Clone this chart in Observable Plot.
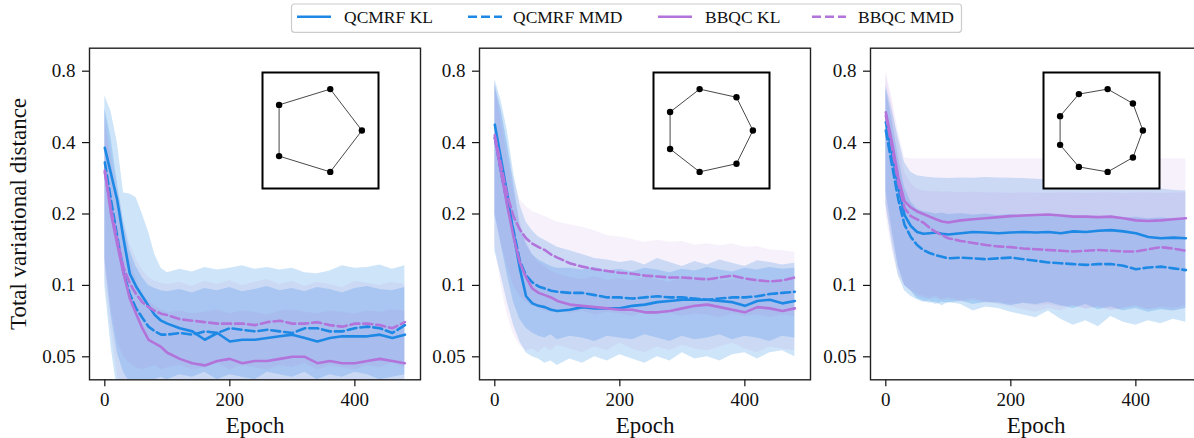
<!DOCTYPE html>
<html><head><meta charset="utf-8">
<script src="https://cdn.jsdelivr.net/npm/d3@7"></script>
<script src="https://cdn.jsdelivr.net/npm/@observablehq/plot@0.6"></script>
<style>
body{margin:0;background:#fff;}
#root{position:relative;width:1194px;height:438px;overflow:hidden;font-family:"Liberation Serif",serif;background:#fff;}
.abs{position:absolute;}
</style></head><body><div id="root"></div>
<script>
// ---------- data ----------
const epochs = [0,10,20,30,40,50,60,70,80,90,100,120,140,160,180,200,220,240,260,280,300,320,340,360,380,400,420,440,460,480];
const seriesNames = ["QCMRF KL","QCMRF MMD","BBQC KL","BBQC MMD"];
const seriesColors = ["#1E88E5","#1E88E5","#B273DA","#B273DA"];
const seriesFillOpacity = [0.22,0.22,0.10,0.10];
const seriesDash = [null,"9,4",null,"9,4"];
const yTicks = [0.05,0.1,0.2,0.4,0.8];
const xTicks = [0,200,400];

// Panel 1 (5-cycle)
const p1_qk    = [0.380,0.295,0.228,0.157,0.112,0.099,0.090,0.082,0.075,0.071,0.069,0.066,0.064,0.059,0.063,0.058,0.059,0.059,0.060,0.061,0.062,0.060,0.058,0.060,0.061,0.061,0.061,0.062,0.060,0.062];
const p1_qk_lo = [0.100,0.055,0.036,0.030,0.028,0.027,0.026,0.026,0.025,0.025,0.025,0.026,0.025,0.026,0.025,0.025,0.026,0.025,0.026,0.025,0.025,0.026,0.025,0.025,0.026,0.025,0.026,0.025,0.025,0.026];
const p1_qk_hi = [0.630,0.540,0.400,0.245,0.243,0.235,0.200,0.168,0.135,0.118,0.113,0.117,0.114,0.119,0.116,0.118,0.121,0.117,0.119,0.116,0.118,0.113,0.112,0.115,0.121,0.118,0.119,0.122,0.117,0.121];
const p1_qm    = [0.330,0.228,0.160,0.113,0.092,0.080,0.073,0.067,0.064,0.062,0.062,0.063,0.062,0.064,0.063,0.066,0.065,0.064,0.065,0.064,0.063,0.066,0.066,0.064,0.064,0.066,0.067,0.066,0.063,0.068];
const p1_qm_lo = [0.130,0.075,0.052,0.043,0.039,0.037,0.036,0.038,0.040,0.041,0.040,0.042,0.041,0.043,0.040,0.042,0.041,0.040,0.043,0.042,0.041,0.043,0.040,0.042,0.041,0.043,0.042,0.040,0.041,0.042];
const p1_qm_hi = [0.560,0.420,0.270,0.185,0.140,0.120,0.108,0.100,0.097,0.095,0.094,0.096,0.093,0.097,0.095,0.098,0.094,0.096,0.099,0.095,0.097,0.094,0.098,0.096,0.093,0.097,0.099,0.096,0.095,0.098];
const p1_bk    = [0.305,0.200,0.148,0.112,0.088,0.076,0.066,0.059,0.057,0.055,0.052,0.049,0.047,0.046,0.048,0.049,0.047,0.048,0.048,0.049,0.050,0.050,0.047,0.048,0.047,0.047,0.048,0.049,0.048,0.047];
const p1_bk_lo = [0.110,0.065,0.042,0.033,0.029,0.028,0.027,0.026,0.026,0.025,0.025,0.026,0.025,0.025,0.026,0.025,0.025,0.026,0.025,0.025,0.026,0.025,0.025,0.026,0.025,0.025,0.026,0.025,0.025,0.026];
const p1_bk_hi = [0.500,0.340,0.225,0.170,0.130,0.107,0.092,0.086,0.082,0.079,0.077,0.078,0.076,0.077,0.079,0.076,0.078,0.077,0.075,0.078,0.079,0.077,0.076,0.078,0.077,0.076,0.078,0.077,0.079,0.078];
const p1_bm    = [0.300,0.210,0.155,0.119,0.102,0.092,0.085,0.081,0.078,0.076,0.075,0.072,0.071,0.070,0.069,0.069,0.069,0.068,0.070,0.071,0.069,0.069,0.070,0.068,0.067,0.069,0.069,0.068,0.066,0.070];
const p1_bm_lo = [0.125,0.080,0.058,0.050,0.047,0.045,0.044,0.045,0.046,0.044,0.045,0.046,0.044,0.045,0.047,0.044,0.046,0.045,0.044,0.046,0.045,0.047,0.044,0.046,0.045,0.044,0.046,0.045,0.047,0.045];
const p1_bm_hi = [0.550,0.380,0.265,0.190,0.150,0.130,0.116,0.108,0.104,0.102,0.101,0.103,0.099,0.104,0.101,0.105,0.100,0.103,0.106,0.101,0.104,0.099,0.103,0.101,0.098,0.104,0.102,0.100,0.103,0.101];

// Panel 2 (7-cycle)
const p2_qk    = [0.476,0.340,0.243,0.165,0.118,0.090,0.084,0.082,0.081,0.079,0.078,0.079,0.081,0.080,0.080,0.080,0.082,0.083,0.085,0.086,0.087,0.087,0.087,0.086,0.085,0.082,0.086,0.087,0.084,0.086];
const p2_qk_lo = [0.140,0.110,0.085,0.068,0.058,0.052,0.050,0.049,0.047,0.048,0.046,0.049,0.047,0.050,0.048,0.051,0.049,0.047,0.050,0.048,0.052,0.049,0.050,0.048,0.051,0.052,0.049,0.052,0.053,0.050];
const p2_qk_hi = [0.740,0.600,0.450,0.300,0.220,0.185,0.170,0.160,0.155,0.150,0.145,0.140,0.135,0.130,0.128,0.125,0.127,0.122,0.130,0.125,0.120,0.126,0.122,0.128,0.124,0.120,0.127,0.125,0.122,0.124];
const p2_qm    = [0.420,0.300,0.220,0.170,0.127,0.110,0.103,0.099,0.097,0.095,0.094,0.093,0.093,0.091,0.089,0.089,0.088,0.089,0.090,0.089,0.089,0.088,0.087,0.088,0.089,0.089,0.090,0.092,0.093,0.094];
const p2_qm_lo = [0.200,0.150,0.110,0.085,0.072,0.066,0.063,0.061,0.060,0.062,0.059,0.061,0.060,0.058,0.061,0.060,0.059,0.062,0.060,0.058,0.061,0.059,0.060,0.062,0.059,0.061,0.060,0.058,0.061,0.060];
const p2_qm_hi = [0.700,0.550,0.400,0.270,0.180,0.150,0.135,0.128,0.124,0.120,0.118,0.118,0.116,0.119,0.115,0.117,0.114,0.118,0.116,0.113,0.117,0.115,0.119,0.116,0.114,0.118,0.116,0.119,0.117,0.118];
const p2_bk    = [0.420,0.300,0.215,0.160,0.125,0.108,0.097,0.093,0.091,0.089,0.086,0.083,0.082,0.081,0.080,0.079,0.079,0.077,0.077,0.078,0.080,0.082,0.083,0.081,0.079,0.077,0.081,0.080,0.078,0.080];
const p2_bk_lo = [0.150,0.100,0.075,0.062,0.056,0.053,0.054,0.052,0.055,0.053,0.056,0.054,0.052,0.055,0.053,0.057,0.054,0.052,0.055,0.053,0.056,0.054,0.053,0.055,0.057,0.054,0.052,0.055,0.054,0.053];
const p2_bk_hi = [0.700,0.500,0.350,0.250,0.190,0.155,0.135,0.125,0.120,0.115,0.112,0.108,0.106,0.109,0.105,0.107,0.104,0.108,0.106,0.103,0.107,0.105,0.108,0.104,0.106,0.105,0.107,0.104,0.106,0.105];
const p2_bm    = [0.430,0.320,0.240,0.195,0.172,0.158,0.150,0.145,0.141,0.135,0.131,0.124,0.120,0.117,0.115,0.113,0.112,0.110,0.109,0.108,0.108,0.107,0.106,0.108,0.110,0.107,0.105,0.104,0.105,0.108];
const p2_bm_lo = [0.200,0.150,0.120,0.100,0.090,0.085,0.082,0.080,0.078,0.077,0.079,0.076,0.078,0.075,0.077,0.076,0.074,0.077,0.075,0.076,0.074,0.076,0.075,0.073,0.076,0.074,0.075,0.073,0.075,0.074];
const p2_bm_hi = [0.720,0.550,0.380,0.280,0.230,0.215,0.205,0.200,0.195,0.190,0.185,0.180,0.176,0.170,0.162,0.160,0.156,0.152,0.155,0.152,0.153,0.148,0.150,0.147,0.150,0.145,0.146,0.141,0.140,0.138];

// Panel 3 (9-cycle)
const p3_qk    = [0.488,0.360,0.260,0.198,0.178,0.168,0.165,0.166,0.167,0.165,0.164,0.166,0.168,0.167,0.166,0.167,0.168,0.167,0.168,0.166,0.169,0.168,0.170,0.171,0.169,0.166,0.160,0.158,0.159,0.158];
const p3_qk_lo = [0.250,0.170,0.120,0.100,0.095,0.088,0.086,0.084,0.085,0.082,0.085,0.083,0.078,0.081,0.080,0.077,0.075,0.073,0.078,0.072,0.068,0.071,0.067,0.074,0.070,0.068,0.071,0.069,0.072,0.070];
const p3_qk_hi = [0.700,0.550,0.420,0.330,0.300,0.290,0.287,0.285,0.284,0.283,0.282,0.284,0.283,0.285,0.284,0.283,0.282,0.280,0.278,0.276,0.275,0.272,0.270,0.266,0.263,0.260,0.257,0.255,0.252,0.250];
const p3_qm    = [0.450,0.320,0.230,0.180,0.160,0.148,0.141,0.137,0.134,0.132,0.130,0.131,0.130,0.129,0.130,0.131,0.129,0.127,0.125,0.124,0.123,0.122,0.123,0.123,0.121,0.117,0.119,0.120,0.118,0.116];
const p3_qm_lo = [0.220,0.150,0.110,0.095,0.090,0.087,0.085,0.086,0.083,0.085,0.084,0.086,0.083,0.085,0.084,0.082,0.084,0.083,0.085,0.082,0.080,0.083,0.079,0.081,0.078,0.080,0.077,0.079,0.078,0.080];
const p3_qm_hi = [0.680,0.500,0.350,0.260,0.225,0.210,0.205,0.203,0.200,0.202,0.199,0.201,0.198,0.200,0.197,0.199,0.196,0.198,0.195,0.197,0.194,0.196,0.193,0.195,0.192,0.194,0.191,0.193,0.190,0.192];
const p3_bk    = [0.537,0.400,0.285,0.226,0.213,0.205,0.200,0.195,0.190,0.186,0.184,0.188,0.190,0.192,0.194,0.196,0.197,0.198,0.199,0.197,0.195,0.195,0.194,0.195,0.192,0.188,0.187,0.188,0.190,0.192];
const p3_bk_lo = [0.200,0.140,0.110,0.100,0.095,0.092,0.090,0.088,0.090,0.087,0.089,0.086,0.088,0.085,0.083,0.081,0.079,0.077,0.080,0.078,0.082,0.079,0.081,0.078,0.080,0.082,0.079,0.081,0.080,0.082];
const p3_bk_hi = [0.800,0.620,0.450,0.345,0.342,0.342,0.342,0.342,0.342,0.342,0.342,0.342,0.342,0.342,0.342,0.342,0.342,0.342,0.342,0.342,0.342,0.342,0.342,0.342,0.342,0.342,0.342,0.342,0.342,0.342];
const p3_bm    = [0.520,0.380,0.270,0.212,0.196,0.190,0.184,0.175,0.168,0.163,0.158,0.154,0.151,0.148,0.146,0.145,0.143,0.142,0.141,0.140,0.139,0.140,0.141,0.140,0.139,0.139,0.142,0.145,0.143,0.140];
const p3_bm_lo = [0.220,0.160,0.120,0.100,0.095,0.090,0.088,0.087,0.088,0.086,0.087,0.085,0.086,0.084,0.085,0.083,0.084,0.082,0.083,0.081,0.082,0.080,0.081,0.079,0.080,0.081,0.079,0.080,0.078,0.080];
const p3_bm_hi = [0.780,0.580,0.400,0.300,0.270,0.255,0.250,0.248,0.249,0.247,0.248,0.246,0.247,0.245,0.246,0.244,0.246,0.245,0.244,0.246,0.245,0.244,0.245,0.246,0.244,0.245,0.246,0.244,0.245,0.246];

// Inset graph node coordinates (circular layouts)
const c5_x = [1, 0.309, -0.809, -0.809, 0.309];
const c5_y = [0, 0.951, 0.588, -0.588, -0.951];
const c7_x = [1, 0.623, -0.223, -0.901, -0.901, -0.223, 0.623];
const c7_y = [0, 0.782, 0.975, 0.434, -0.434, -0.975, -0.782];
const c9_x = [1, 0.766, 0.174, -0.5, -0.940, -0.940, -0.5, 0.174, 0.766];
const c9_y = [0, 0.643, 0.985, 0.866, 0.342, -0.342, -0.866, -0.985, -0.643];

// ---------- build ----------
const root = document.getElementById("root");
const FONT = "Liberation Serif";
const panels = [
  {left: 0,     ml: 89, w: 449, yLabel: true,  gx: c5_x, gy: c5_y,
   s: [[p1_qk,p1_qk_lo,p1_qk_hi],[p1_qm,p1_qm_lo,p1_qm_hi],[p1_bk,p1_bk_lo,p1_bk_hi],[p1_bm,p1_bm_lo,p1_bm_hi]]},
  {left: 419.3, ml: 60, w: 420, yLabel: false, gx: c7_x, gy: c7_y,
   s: [[p2_qk,p2_qk_lo,p2_qk_hi],[p2_qm,p2_qm_lo,p2_qm_hi],[p2_bk,p2_bk_lo,p2_bk_hi],[p2_bm,p2_bm_lo,p2_bm_hi]]},
  {left: 810,   ml: 60, w: 420, yLabel: false, gx: c9_x, gy: c9_y,
   s: [[p3_qk,p3_qk_lo,p3_qk_hi],[p3_qm,p3_qm_lo,p3_qm_hi],[p3_bk,p3_bk_lo,p3_bk_hi],[p3_bm,p3_bm_lo,p3_bm_hi]]}
];
const FRAME_W = 331;

for (const p of panels) {
  const rowsets = p.s.map(([m, lo, hi], k) =>
    epochs.map((e, i) => ({epoch: e, mean: m[i], lo: lo[i], hi: hi[i], k})));
  const marks = [];
  rowsets.forEach((rows, k) => marks.push(Plot.areaY(rows, {x: "epoch", y1: "lo", y2: "hi", fill: seriesColors[k], fillOpacity: seriesFillOpacity[k], clip: true})));
  rowsets.forEach((rows, k) => marks.push(Plot.lineY(rows, {x: "epoch", y: "mean", stroke: seriesColors[k], strokeWidth: 2.6, strokeDasharray: seriesDash[k] || undefined, clip: true})));
  // y tick marks via axis, labels placed through the y scale (log tickFormat would hide 0.8)
  marks.push(Plot.axisY({ticks: yTicks, tickFormat: () => "", tickSize: 7, strokeWidth: 1.2, label: null}));
  marks.push(Plot.text(yTicks, {y: d => d, text: d => String(d), frameAnchor: "left", textAnchor: "end", dx: -14, fontSize: 19, fill: "#111"}));
  marks.push(Plot.axisX({ticks: xTicks, tickFormat: d => String(d), tickSize: 7, tickPadding: 6, fontSize: 19, strokeWidth: 1.2, label: null}));
  marks.push(Plot.frame({stroke: "#222", strokeWidth: 1.4}));
  marks.push(Plot.text(["Epoch"], {text: d => d, frameAnchor: "bottom", lineAnchor: "middle", dy: 46, fontSize: 23, fill: "#111"}));
  if (p.yLabel) marks.push(Plot.text(["Total variational distance"], {text: d => d, frameAnchor: "left", textAnchor: "middle", lineAnchor: "middle", rotate: -90, dx: -71, fontSize: 23, fill: "#111"}));
  const chart = Plot.plot({
    width: p.w, height: 438,
    marginLeft: p.ml, marginRight: p.w - p.ml - FRAME_W, marginTop: 47.7, marginBottom: 58.7,
    x: {domain: [-24.5, 505]},
    y: {type: "log", domain: [0.04, 1.0]},
    style: {fontFamily: FONT, fontSize: "19px", background: "none", color: "#111", overflow: "visible"},
    marks
  });
  chart.classList.add("abs");
  chart.style.left = p.left + "px";
  chart.style.top = "0px";
  root.appendChild(chart);

  // inset graph
  const nodes = p.gx.map((x, i) => ({x, y: p.gy[i]}));
  const edges = nodes.map((n, i) => ({a: n, b: nodes[(i + 1) % nodes.length]}));
  const inset = Plot.plot({
    width: 116, height: 116, margin: 0,
    x: {domain: d3.extent(p.gx), inset: 16.6, axis: null},
    y: {domain: d3.extent(p.gy), inset: 16.6, axis: null},
    style: {background: "#fff", overflow: "visible"},
    marks: [
      Plot.link(edges, {x1: d => d.a.x, y1: d => d.a.y, x2: d => d.b.x, y2: d => d.b.y, stroke: "#333", strokeWidth: 0.9}),
      Plot.dot(nodes, {x: "x", y: "y", r: 3.2, fill: "#000", stroke: "none"}),
      Plot.frame({stroke: "#000", strokeWidth: 2})
    ]
  });
  inset.classList.add("abs");
  inset.style.left = (p.left + p.ml + 173.3) + "px";
  inset.style.top = "72px";
  root.appendChild(inset);
}

// ---------- legend ----------
const legendX = [297, 468, 658, 812];
const legendTextX = [344, 513, 705, 858];
const NS = "http://www.w3.org/2000/svg";
const lg = document.createElementNS(NS, "svg");
lg.setAttribute("width", 1194); lg.setAttribute("height", 40);
lg.classList.add("abs"); lg.style.left = "0px"; lg.style.top = "0px";
const box = document.createElementNS(NS, "rect");
Object.entries({x: 291.5, y: 4, width: 670, height: 28.3, rx: 3, fill: "#fff", stroke: "#cccccc", "stroke-width": 1.2}).forEach(([k, v]) => box.setAttribute(k, v));
lg.appendChild(box);
seriesNames.forEach((name, k) => {
  const ln = document.createElementNS(NS, "line");
  Object.entries({x1: legendX[k], x2: legendX[k] + 34, y1: 16.7, y2: 16.7, stroke: seriesColors[k], "stroke-width": 2.6}).forEach(([a, v]) => ln.setAttribute(a, v));
  if (seriesDash[k]) ln.setAttribute("stroke-dasharray", seriesDash[k]);
  lg.appendChild(ln);
  const t = document.createElementNS(NS, "text");
  t.setAttribute("x", legendTextX[k]); t.setAttribute("y", 22.7);
  t.setAttribute("font-family", FONT); t.setAttribute("font-size", 17.5); t.setAttribute("fill", "#111");
  t.textContent = name;
  lg.appendChild(t);
});
root.appendChild(lg);
</script>
</body></html>
